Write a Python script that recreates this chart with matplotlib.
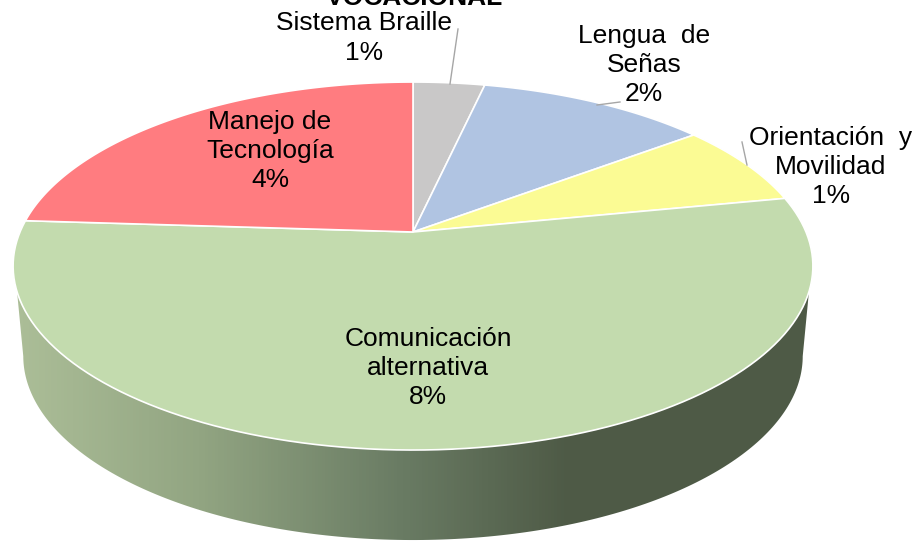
import numpy as np
import matplotlib
matplotlib.use('Agg')
import matplotlib.pyplot as plt
from matplotlib.patches import Polygon

plt.rcParams['font.family'] = ['Liberation Sans', 'DejaVu Sans']

# categories and values, clockwise from 12 o'clock
names = ['Sistema Braille', 'Lengua  de\nSeñas', 'Orientación  y\nMovilidad',
         'Comunicación\nalternativa', 'Manejo de\nTecnología']
values = [0.54, 1.74, 1.13, 8.45, 3.74]
colors = ['#C9C8C8', '#B0C4E2', '#FBFB94', '#C3DBAE', '#FF7C80']
title = 'VOCACIONAL'

# label centres in pixels
label_pos = [(364, 38), (644, 65), (831, 167), (428, 368), (270, 151)]
# leader lines in pixels
leaders = [((458, 29), (450, 84)), ((620, 102), (597, 105)), ((742, 142), (747, 165))]

W, H = 919, 542
K = 0.185


def project(theta, cy, a, b=177.7, cx=413):
    # perspective circle, theta in degrees clockwise from the top
    t = np.radians(theta)
    w = 1 + K * np.cos(t)
    return np.column_stack((cx + a * np.sin(t) / w, cy - b * np.cos(t) / w))


fig = plt.figure(figsize=(W / 100, H / 100), dpi=100)
ax = fig.add_axes([0, 0, 1, 1])
ax.set_xlim(0, W)
ax.set_ylim(H, 0)
ax.axis('off')

# side wall with horizontal gradient
rim = project(np.linspace(108.5, 251.5, 200), 232, 393)
low = project(np.linspace(259.3, 100.7, 200), 322, 383)
wall = Polygon(np.vstack((rim, low)), closed=True, fc='none', ec='none', transform=ax.transData)
ax.add_patch(wall)
xs = np.linspace(0, 1, 256)
stops_x = np.array([15, 200, 400, 570, 820])
stops_r = np.array([172, 146, 106, 78, 78])
stops_g = np.array([190, 165, 124, 90, 90])
stops_b = np.array([152, 130, 100, 70, 70])
px = 15 + xs * 805
grad = np.dstack((np.interp(px, stops_x, stops_r), np.interp(px, stops_x, stops_g),
                  np.interp(px, stops_x, stops_b))).astype(np.uint8)
im = ax.imshow(grad, extent=(15, 820, 545, 280), aspect='auto', zorder=1, interpolation='bilinear')
im.set_clip_path(wall)
ax.set_xlim(0, W)
ax.set_ylim(H, 0)

# top face slices
edges = np.concatenate(([0], np.cumsum(values))) / np.sum(values) * 360
for i, color in enumerate(colors):
    arc = project(np.linspace(edges[i], edges[i + 1], 120), 232, 393)
    pts = np.vstack(([[413, 232]], arc))
    ax.add_patch(Polygon(pts, closed=True, fc=color, ec='white', lw=1.2, joinstyle='round', zorder=2))

for (p0, p1) in leaders:
    ax.plot([p0[0], p1[0]], [p0[1], p1[1]], color='#A6A6A6', lw=1, zorder=3)

for name, val, pos in zip(names, values, label_pos):
    ax.text(pos[0], pos[1], f'{name}\n{val:.0f}%', ha='center', va='center', fontsize=19,
            linespacing=1.28, color='black', zorder=4)

ax.text(414, 5, title, ha='center', va='baseline', fontsize=19, fontweight='bold', color='black', zorder=4)

fig.savefig('out.png', dpi=100)
